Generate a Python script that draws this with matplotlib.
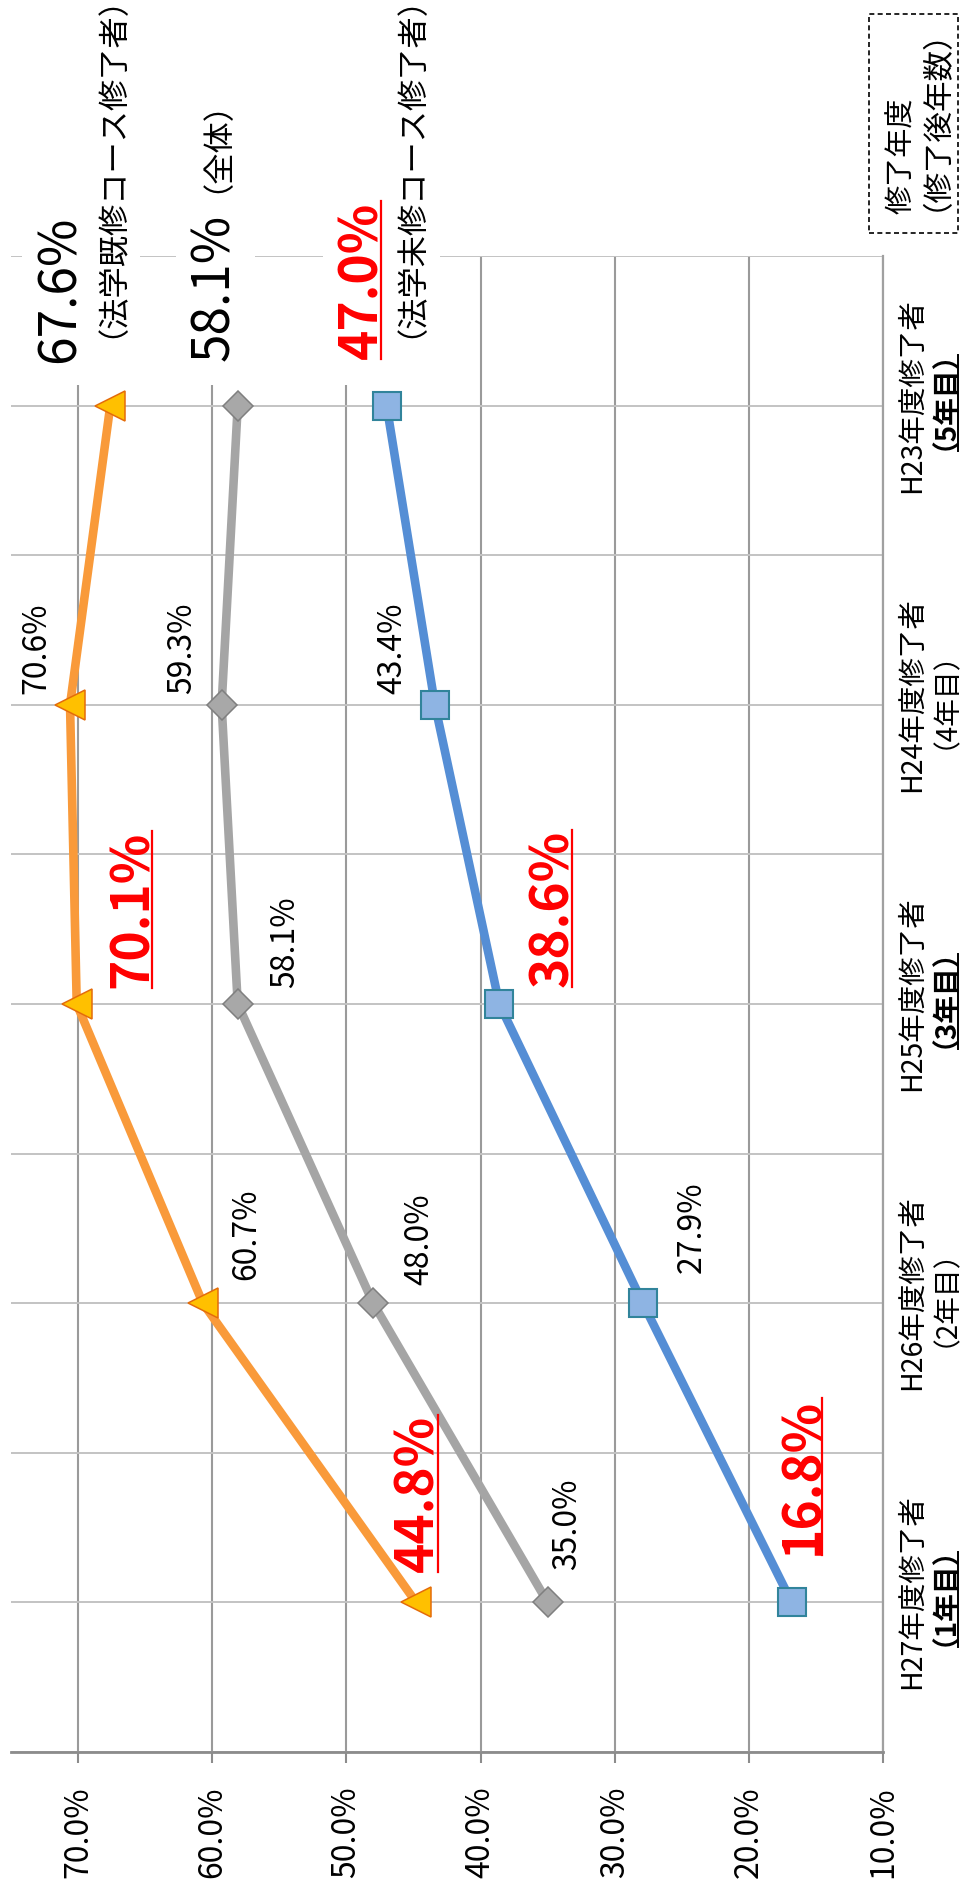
import numpy as np
import matplotlib.pyplot as plt
from matplotlib.patches import Rectangle
from matplotlib.lines import Line2D
from matplotlib.transforms import IdentityTransform

plt.rcParams['font.family'] = ['Noto Sans CJK JP', 'DejaVu Sans']

# data (bottom row first: H27 ... H23)
categories = ['H27年度修了者', 'H26年度修了者', 'H25年度修了者', 'H24年度修了者', 'H23年度修了者']
years = ['（1年目）', '（2年目）', '（3年目）', '（4年目）', '（5年目）']
year_bold = [True, False, True, False, True]

kishu = [44.8, 60.7, 70.1, 70.6, 67.6]    # 法学既修コース修了者
zentai = [35.0, 48.0, 58.1, 59.3, 58.1]   # 全体
mishu = [16.8, 27.9, 38.6, 43.4, 47.0]    # 法学未修コース修了者

value_ticks = [70, 60, 50, 40, 30, 20, 10]
value_tick_labels = ['70.0%', '60.0%', '50.0%', '40.0%', '30.0%', '20.0%', '10.0%']

W, H = 960, 1892
fig = plt.figure(figsize=(W / 100, H / 100), dpi=100)
ax = fig.add_axes([11 / W, 140 / H, 872 / W, 1496 / H])

rows = np.arange(len(categories))
ax.set_xlim(75, 10)
ax.set_ylim(-0.5, len(categories) - 0.5)
ax.set_xticks(value_ticks)
ax.set_xticklabels(value_tick_labels, rotation=90, fontsize=23)
ax.set_yticks(np.arange(-0.5, len(categories), 0.5))
ax.set_yticklabels([])
ax.tick_params(axis='y', length=0)
ax.tick_params(axis='x', length=8, width=1.5, color='#8C8C8C', pad=17)
ax.grid(axis='x', color='#9A9A9A', lw=1.5)
ax.grid(axis='y', color='#C3C3C3', lw=1.4)
ax.set_axisbelow(True)
ax.spines['left'].set_visible(False)
ax.spines['top'].set_visible(False)
ax.spines['bottom'].set_color('#8C8C8C')
ax.spines['bottom'].set_linewidth(2)
ax.spines['right'].set_color('#A0A0A0')
ax.spines['right'].set_linewidth(1.6)

# white boxes behind the top captions (they hide the grid)
for x0, x1 in [(22, 140), (176, 255), (323, 440)]:
    ax.add_patch(Rectangle((x0 / W, 1 - 385 / H), (x1 - x0) / W, 385 / H,
                           transform=fig.transFigure, facecolor='white',
                           edgecolor='none', clip_on=False, zorder=1))

# lines
ax.plot(kishu, rows, color='#F99A3A', lw=6.2, marker='<', ms=21,
        mfc='#FFC000', mec='#E46C0A', mew=1.1, zorder=3)
ax.plot(zentai, rows, color='#A5A5A5', lw=6.2, marker='D', ms=15,
        mfc='#A8A8A8', mec='#7F7F7F', mew=1.1, zorder=3)
ax.plot(mishu, rows, color='#558ED5', lw=6.2, marker='s', ms=20,
        mfc='#8EB4E3', mec='#31849B', mew=1.5, zorder=3)


def label(val, row, text, dx, dy, size, color='black', weight='normal'):
    return ax.annotate(text, xy=(val, row), xytext=(dx, dy), textcoords='offset pixels',
                       rotation=90, rotation_mode='anchor', ha='left', va='center',
                       fontsize=size, color=color, fontweight=weight, zorder=5)


underlined = []

# 法学既修
off_k = [(2, 30), (43, 23), (56, 16), (-34, 11)]
red_k = [True, False, True, False]
for i in range(4):
    if red_k[i]:
        t = label(kishu[i], rows[i], f'{kishu[i]:.1f}%', *off_k[i], 37, 'red', 'bold')
        underlined.append(t)
    else:
        label(kishu[i], rows[i], f'{kishu[i]:.1f}%', *off_k[i], 23)
label(kishu[4], rows[4], f'{kishu[4]:.1f}%', -50, 43, 37)
label(kishu[4], rows[4], '（法学既修コース修了者）', -15, 68, 22.5)

# 全体
off_z = [(20, 32), (46, 18), (47, 16), (-39, 11)]
for i in range(4):
    label(zentai[i], rows[i], f'{zentai[i]:.1f}%', *off_z[i], 23)
label(zentai[4], rows[4], f'{zentai[4]:.1f}%', -23, 45, 37)
label(zentai[4], rows[4], '（全体）', -37, 213, 22.5)

# 法学未修
off_m = [(11, 47), (49, 30), (53, 17), (-43, 11)]
red_m = [True, False, True, False]
for i in range(4):
    if red_m[i]:
        t = label(mishu[i], rows[i], f'{mishu[i]:.1f}%', *off_m[i], 37, 'red', 'bold')
        underlined.append(t)
    else:
        label(mishu[i], rows[i], f'{mishu[i]:.1f}%', *off_m[i], 23)
t = label(mishu[4], rows[4], f'{mishu[4]:.1f}%', -25, 47, 37, 'red', 'bold')
underlined.append(t)
label(mishu[4], rows[4], '（法学未修コース修了者）', 8, 68, 22.5)

# category labels on the right (two lines, second one bold for odd years)
cat_under = []
for i, r in enumerate(rows):
    ax.annotate(categories[i], xy=(1, r), xycoords=('axes fraction', 'data'),
                xytext=(37, -87), textcoords='offset pixels', rotation=90,
                rotation_mode='anchor', ha='left', va='baseline', fontsize=20.5,
                annotation_clip=False)
    t = ax.annotate(years[i], xy=(1, r), xycoords=('axes fraction', 'data'),
                    xytext=(56, -44), textcoords='offset pixels', rotation=90,
                    rotation_mode='anchor', ha='left', va='baseline', fontsize=20,
                    fontweight='bold' if year_bold[i] else 'normal',
                    annotation_clip=False)
    if year_bold[i]:
        cat_under.append(t)

# dashed box top right
fig.add_artist(Rectangle((869 / W, 1 - 233 / H), 89 / W, 219 / H, transform=fig.transFigure,
                         fill=False, ls=(0, (3, 2)), lw=1.2, ec='black'))
fig.text(902 / W, 1 - 214 / H, '修了年度', rotation=90, rotation_mode='anchor',
         ha='left', va='center', fontsize=21)
fig.text(920 / W, 1 - 211 / H, '（修了後年数）', rotation=90, rotation_mode='anchor',
         ha='left', va='center', fontsize=22)

# underlines (text is turned, so the line sits on the right side)
fig.canvas.draw()
rend = fig.canvas.get_renderer()
for t in underlined:
    bb = t.get_window_extent(rend)
    _, _, d = rend.get_text_width_height_descent('lp', t.get_fontproperties(), ismath=False)
    x = bb.x1 - d + 4
    fig.add_artist(Line2D([x, x], [bb.y0, bb.y1], transform=IdentityTransform(),
                          color=t.get_color(), lw=1.6))
x_base = ax.transAxes.transform((1, 0))[0] + 56
for t in cat_under:
    bb = t.get_window_extent(rend)
    y0 = bb.y0 - 1
    y1 = bb.y0 + 0.74 * (bb.y1 - bb.y0)
    fig.add_artist(Line2D([x_base + 19, x_base + 19], [y0, y1],
                          transform=IdentityTransform(), color='black', lw=1.4))

fig.savefig('out.png', dpi=100)
